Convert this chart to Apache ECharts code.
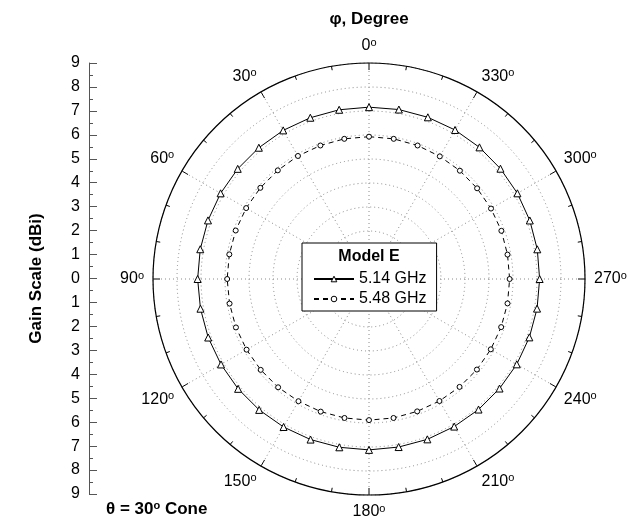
<!DOCTYPE html>
<html>
<head>
<meta charset="utf-8">
<script src="https://cdn.jsdelivr.net/npm/echarts@6/dist/echarts.min.js"></script>
<style>
  html, body { margin: 0; padding: 0; background: #fff; }
  #chart { width: 640px; height: 521px; }
</style>
</head>
<body>
<div id="chart"></div>
<script>
// Azimuth angles (phi, degrees) at which the gain was sampled
const phiAngles = [0, 10, 20, 30, 40, 50, 60, 70, 80, 90, 100, 110,
  120, 130, 140, 150, 160, 170, 180, 190, 200, 210, 220, 230,
  240, 250, 260, 270, 280, 290, 300, 310, 320, 330, 340, 350];

// Gain (dBi) at 5.14 GHz
const gain514 = [7.16, 7.16, 7.15, 7.15, 7.14, 7.14, 7.14, 7.14, 7.14, 7.14, 7.13, 7.13,
  7.12, 7.12, 7.12, 7.12, 7.12, 7.12, 7.12, 7.11, 7.11, 7.10, 7.10, 7.10,
  7.11, 7.11, 7.11, 7.11, 7.12, 7.13, 7.14, 7.15, 7.16, 7.17, 7.17, 7.17];

// Gain (dBi) at 5.48 GHz
const gain548 = [5.93, 5.93, 5.92, 5.92, 5.91, 5.91, 5.91, 5.91, 5.91, 5.91, 5.90, 5.90,
  5.89, 5.89, 5.89, 5.88, 5.88, 5.88, 5.88, 5.88, 5.87, 5.87, 5.87, 5.87,
  5.86, 5.86, 5.86, 5.86, 5.86, 5.87, 5.87, 5.88, 5.89, 5.90, 5.92, 5.93];

const seriesNames = ['5.14 GHz', '5.48 GHz'];
const legendTitle = 'Model E';
const angleTitle = 'φ, Degree';
const gainTitle = 'Gain Scale (dBi)';
const coneNote = ['θ = 30', 'o', ' Cone'];

const FONT = 'Liberation Sans, Arial, Helvetica, sans-serif';

// Closed loop: repeat the first sample at 360 degrees without a marker
function loop(values) {
  const d = phiAngles.map((a, i) => [values[i], a]);
  d.push({ value: [values[0], 360], symbol: 'none' });
  return d;
}

const chart = echarts.init(document.getElementById('chart'), null, { renderer: 'canvas' });

const dotted = { color: '#8a8a8a', width: 1, type: [1, 3] };
const openMarker = { color: '#fff', borderColor: '#000', borderWidth: 1 };

chart.setOption({
  animation: false,
  backgroundColor: '#fff',
  textStyle: { fontFamily: FONT },
  polar: { center: [369, 279], radius: 216 },
  angleAxis: {
    type: 'value', min: 0, max: 360, interval: 30,
    startAngle: 90, clockwise: false,
    axisLine: { show: true, lineStyle: { color: '#000', width: 1.2 } },
    axisTick: { show: true, inside: true, length: 7, lineStyle: { color: '#000', width: 1 } },
    minorTick: { show: true, splitNumber: 3, length: 4, lineStyle: { color: '#000', width: 1 } },
    splitLine: { show: true, lineStyle: dotted },
    axisLabel: {
      margin: 9,
      color: '#000',
      formatter: v => (v === 360 ? '' : '{n|' + v + '}{o|o}'),
      rich: {
        n: { fontSize: 16, lineHeight: 16, fontFamily: FONT, color: '#000', verticalAlign: 'bottom' },
        o: { fontSize: 11, lineHeight: 11, fontFamily: FONT, color: '#000', verticalAlign: 'bottom', padding: [0, 0, 6, 0] }
      }
    }
  },
  radiusAxis: {
    type: 'value', min: 0, max: 9, interval: 1,
    axisLine: { show: false }, axisTick: { show: false }, axisLabel: { show: false },
    splitLine: { show: true, lineStyle: dotted }
  },
  grid: { left: 89, top: 63, width: 10, height: 431 },
  xAxis: { type: 'value', show: false },
  yAxis: {
    type: 'value', min: -9, max: 9, interval: 1,
    axisLine: { show: true, lineStyle: { color: '#555', width: 1 } },
    axisTick: { show: true, inside: true, length: 8, lineStyle: { color: '#555' } },
    minorTick: { show: true, splitNumber: 2, length: 4, lineStyle: { color: '#555' } },
    splitLine: { show: false },
    axisLabel: { formatter: v => String(Math.abs(v)), fontSize: 16, color: '#000', margin: 9, fontFamily: FONT },
    name: gainTitle, nameLocation: 'middle', nameGap: 44,
    nameTextStyle: { fontWeight: 'bold', fontSize: 17, color: '#000', fontFamily: FONT }
  },
  legend: {
    data: seriesNames,
    orient: 'vertical',
    left: 302, top: 243,
    padding: [28, 10, 4, 11],
    itemWidth: 40, itemHeight: 7, itemGap: 4,
    borderColor: '#000', borderWidth: 1, backgroundColor: '#fff',
    itemStyle: openMarker,
    textStyle: { fontSize: 16, color: '#000', fontFamily: FONT },
    z: 4
  },
  graphic: [
    { type: 'text', x: 369, y: 19, z: 100,
      style: { text: angleTitle, font: 'bold 17px ' + FONT, fill: '#000', align: 'center', verticalAlign: 'middle' } },
    { type: 'text', x: 369, y: 257, z: 100,
      style: { text: legendTitle, font: 'bold 16px ' + FONT, fill: '#000', align: 'center', verticalAlign: 'middle' } },
    { type: 'text', x: 106, y: 509, z: 100,
      style: {
        text: '{b|' + coneNote[0] + '}{s|' + coneNote[1] + '}{b|' + coneNote[2] + '}',
        align: 'left', verticalAlign: 'middle',
        rich: {
          b: { font: 'bold 17px ' + FONT, fill: '#000', lineHeight: 17, verticalAlign: 'bottom' },
          s: { font: 'bold 11px ' + FONT, fill: '#000', lineHeight: 11, verticalAlign: 'bottom', padding: [0, 0, 6, 0] }
        }
      } }
  ],
  series: [
    {
      type: 'line', coordinateSystem: 'polar', name: seriesNames[0],
      data: loop(gain514),
      symbol: 'triangle', symbolSize: 7, showAllSymbol: true,
      lineStyle: { color: '#000', width: 1 },
      itemStyle: openMarker,
      clip: false, silent: true, z: 3
    },
    {
      type: 'line', coordinateSystem: 'polar', name: seriesNames[1],
      data: loop(gain548),
      symbol: 'circle', symbolSize: 5, showAllSymbol: true,
      lineStyle: { color: '#000', width: 1, type: [5, 4] },
      itemStyle: openMarker,
      clip: false, silent: true, z: 3
    }
  ]
});
</script>
</body>
</html>
